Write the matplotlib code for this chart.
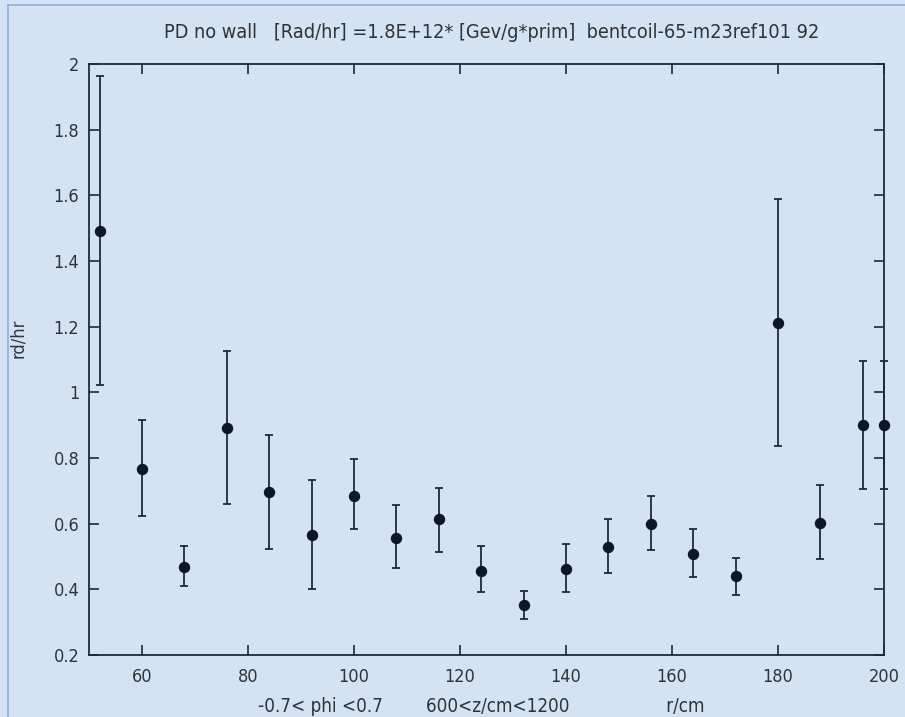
import matplotlib
matplotlib.use('Agg')
import matplotlib.pyplot as plt
from matplotlib.lines import Line2D
from matplotlib.ticker import FuncFormatter

# datos
r_cm = [52, 60, 68, 76, 84, 92, 100, 108, 116, 124, 132, 140, 148, 156, 164, 172, 180, 188, 196, 200]
dosis = [1.491, 0.768, 0.467, 0.892, 0.695, 0.567, 0.685, 0.557, 0.613, 0.457, 0.352,
         0.461, 0.530, 0.599, 0.507, 0.440, 1.212, 0.603, 0.900, 0.900]
err_sup = [1.963, 0.917, 0.533, 1.126, 0.871, 0.734, 0.797, 0.656, 0.710, 0.533, 0.396,
           0.537, 0.615, 0.683, 0.584, 0.496, 1.588, 0.717, 1.096, 1.096]
err_inf = [1.022, 0.623, 0.410, 0.661, 0.524, 0.400, 0.583, 0.465, 0.514, 0.391, 0.309,
           0.391, 0.451, 0.520, 0.437, 0.383, 0.838, 0.492, 0.706, 0.706]

x_ticks = [60, 80, 100, 120, 140, 160, 180, 200]
y_ticks = [0.2, 0.4, 0.6, 0.8, 1.0, 1.2, 1.4, 1.6, 1.8, 2.0]

titulo = 'PD no wall   [Rad/hr] =1.8E+12* [Gev/g*prim]  bentcoil-65-m23ref101 92'
etiqueta_x = '-0.7< phi <0.7        600<z/cm<1200                  r/cm'
etiqueta_y = 'rd/hr'

fondo = '#d4e3f3'
tinta = '#0c1828'
texto = '#2e333a'

plt.rcParams['font.family'] = ['DejaVu Sans']
plt.rcParams['font.stretch'] = 'condensed'

fig = plt.figure(figsize=(9.05, 7.17), dpi=100, facecolor=fondo)
ax = fig.add_axes([89 / 905, 62 / 717, 795 / 905, 591 / 717])
ax.set_facecolor(fondo)

abajo = [d - e for d, e in zip(dosis, err_inf)]
arriba = [e - d for d, e in zip(dosis, err_sup)]
ax.errorbar(r_cm, dosis, yerr=[abajo, arriba], fmt='o', color=tinta, ecolor='#1e2a38',
            markersize=7.2, elinewidth=1.3, capsize=3, capthick=1.3, clip_on=False, zorder=3)

ax.set_xlim(50, 200)
ax.set_ylim(0.2, 2.0)
ax.set_xticks(x_ticks)
ax.set_yticks(y_ticks)
ax.yaxis.set_major_formatter(FuncFormatter(lambda v, p: '%g' % round(v, 2)))
ax.tick_params(direction='in', length=7, width=1.2, top=True, right=True,
               labelsize=13, colors='#1e2a38', labelcolor=texto)
ax.tick_params(axis='x', pad=9)
ax.tick_params(axis='y', pad=7)
for s in ax.spines.values():
    s.set_color('#1e2a38')
    s.set_linewidth(1.3)

fig.text(492 / 905, 1 - 32 / 717, titulo, ha='center', va='center', fontsize=14.2, color=texto)
fig.text(481 / 905, 1 - 706 / 717, etiqueta_x, ha='center', va='center', fontsize=13.5, color=texto)
fig.text(18 / 905, 1 - 338 / 717, etiqueta_y, ha='center', va='center', rotation=90,
         fontsize=13, color=texto)

# borde de la ventana
fig.add_artist(Line2D([8 / 905, 8 / 905], [0, 1 - 5 / 717], color='#8fb2dc', lw=1.2))
fig.add_artist(Line2D([8 / 905, 1], [1 - 5 / 717, 1 - 5 / 717], color='#8fb2dc', lw=1.2))

plt.savefig('out.png', dpi=100, facecolor=fondo)
